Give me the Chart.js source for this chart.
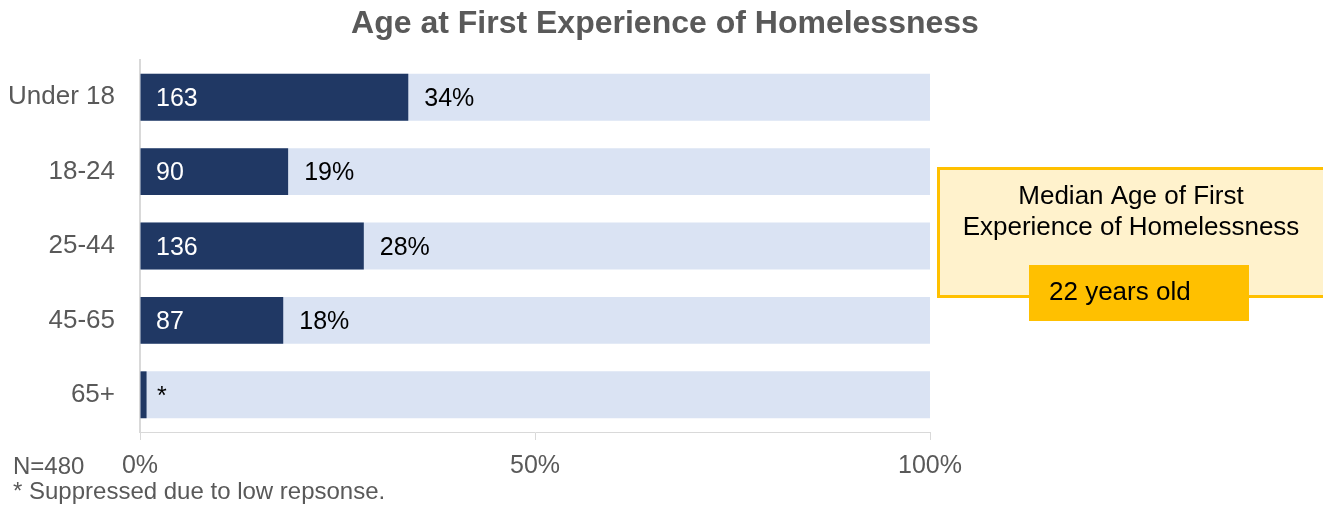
<!DOCTYPE html>
<html>
<head>
<meta charset="utf-8">
<title>Age at First Experience of Homelessness</title>
<script src="https://cdn.jsdelivr.net/npm/chart.js@4.4.1/dist/chart.umd.min.js"></script>
<style>
  html, body { margin: 0; padding: 0; background: #ffffff; }
  #chart-1 { display: block; }
</style>
</head>
<body>
<canvas id="chart-1" width="1323" height="506"></canvas>
<script>
/************************ chart data *********************************/
const titleText = "Age at First Experience of Homelessness";
const ageGroups = ["Under 18", "18-24", "25-44", "45-65", "65+"];
const counts = [163, 90, 136, 87, 4];
const shares = [33.96, 18.75, 28.33, 18.13, 0.83];   // % of respondents
const countLabels = ["163", "90", "136", "87", "*"];
const shareLabels = ["34%", "19%", "28%", "18%", ""];
const fullBar = [100, 100, 100, 100, 100];
const xTicks = [0, 50, 100];
const sampleNote = "N=480";
const footNote = "* Suppressed due to low repsonse.";
const boxLines = ["Median Age of First", "Experience of Homelessness"];
const medianText = "22 years old";

const FONT = "'Liberation Sans', Arial, sans-serif";
const GRAY = "#595959";
const NAVY = "#203864";
const LIGHT = "#DAE3F3";
const GOLD = "#FFC000";
const CREAM = "#FFF2CC";

Chart.defaults.font.family = FONT;

/************************* labels, title, callout ******************************/
const extrasPlugin = {
  id: "extras",
  afterDatasetsDraw(chart) {
    const ctx = chart.ctx;
    const meta = chart.getDatasetMeta(0);
    ctx.save();
    ctx.textBaseline = "middle";
    ctx.textAlign = "left";
    ctx.font = "25px " + FONT;
    meta.data.forEach(function (bar, i) {
      const left = chart.chartArea.left;
      const y = bar.y + 2;
      if (countLabels[i] === "*") {
        ctx.fillStyle = "#000000";
        ctx.fillText(countLabels[i], left + 17, y);
      } else {
        ctx.fillStyle = "#ffffff";
        ctx.fillText(countLabels[i], left + 16, y);
      }
      if (shareLabels[i]) {
        ctx.fillStyle = "#000000";
        ctx.fillText(shareLabels[i], bar.x + 16, y);
      }
    });
    ctx.restore();
  },
  afterDraw(chart) {
    const ctx = chart.ctx;
    ctx.save();
    // title
    ctx.fillStyle = GRAY;
    ctx.textAlign = "center";
    ctx.textBaseline = "alphabetic";
    ctx.font = "bold 32px " + FONT;
    ctx.fillText(titleText, 665, 33);

    // notes under the axis
    ctx.textAlign = "left";
    ctx.font = "24px " + FONT;
    ctx.fillText(sampleNote, 13, 474);
    ctx.fillText(footNote, 13, 499);

    // callout box
    ctx.fillStyle = CREAM;
    ctx.fillRect(938, 168, 400, 128);
    ctx.strokeStyle = GOLD;
    ctx.lineWidth = 3;
    ctx.strokeRect(938.5, 168.5, 400, 128);
    ctx.fillStyle = "#000000";
    ctx.textAlign = "center";
    ctx.font = "26px " + FONT;
    ctx.fillText(boxLines[0], 1131, 204);
    ctx.fillText(boxLines[1], 1131, 235);

    ctx.fillStyle = GOLD;
    ctx.fillRect(1029, 265, 220, 56);
    ctx.fillStyle = "#000000";
    ctx.textAlign = "left";
    ctx.fillText(medianText, 1049, 300);
    ctx.restore();
  }
};

const ctxA = document.getElementById("chart-1").getContext("2d");
const myChart1 = new Chart(ctxA, {
  type: "bar",
  data: {
    labels: ageGroups,
    datasets: [
      {
        label: "Share",
        data: shares,
        backgroundColor: NAVY,
        grouped: false,
        categoryPercentage: 1,
        barPercentage: 0.63,
      },
      {
        label: "Total",
        data: fullBar,
        backgroundColor: LIGHT,
        grouped: false,
        categoryPercentage: 1,
        barPercentage: 0.63,
      },
    ],
  },
  options: {
    indexAxis: "y",
    responsive: false,
    animation: false,
    layout: {
      padding: { top: 60, right: 393, left: 0, bottom: 0 },
    },
    plugins: {
      legend: { display: false },
      tooltip: { enabled: false },
    },
    scales: {
      x: {
        min: 0,
        max: 100,
        afterBuildTicks(scale) {
          scale.ticks = xTicks.map(function (v) { return { value: v }; });
        },
        afterFit(scale) { scale.height = 74; },
        ticks: {
          color: GRAY,
          font: { size: 25 },
          padding: 11,
          maxRotation: 0,
          callback: function (v) { return v + "%"; },
        },
        grid: {
          drawOnChartArea: false,
          drawTicks: true,
          tickLength: 8,
          color: "#D9D9D9",
        },
        border: { display: true, color: "#D9D9D9", width: 1 },
      },
      y: {
        afterFit(scale) { scale.width = 140; },
        ticks: {
          color: GRAY,
          font: { size: 26 },
          padding: 25,
        },
        grid: { display: false, drawTicks: false },
        border: { display: true, color: "#D9D9D9", width: 2 },
      },
    },
  },
  plugins: [extrasPlugin],
});
</script>
</body>
</html>
